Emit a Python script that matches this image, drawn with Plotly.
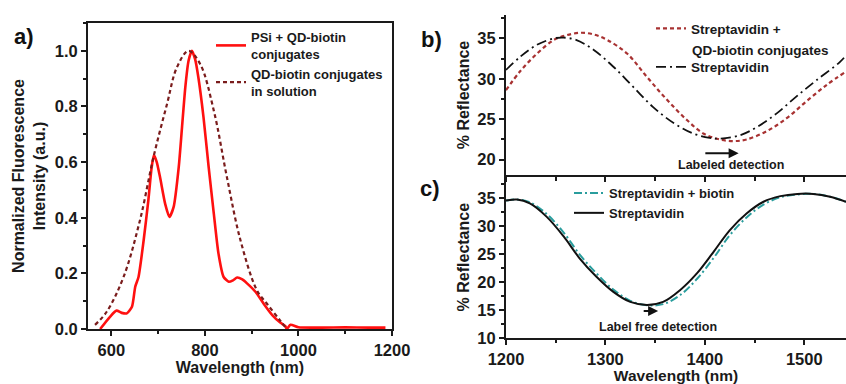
import plotly.graph_objects as go

# ---------------- Panel a data ----------------
psi_x = [576, 597, 611, 622, 633, 644, 651, 658, 669, 679, 686, 691, 697, 704, 715, 724, 733, 744, 751, 758, 765,
         772, 779, 786, 797, 808, 819, 829, 840, 851, 860, 869, 880, 890, 908, 926, 944, 961, 972, 975, 983,
         1000, 1050, 1100, 1150, 1186]
psi_y = [0.0, 0.044, 0.066, 0.058, 0.056, 0.08, 0.152, 0.187, 0.319, 0.462, 0.58, 0.625, 0.6, 0.546, 0.45, 0.403, 0.438,
         0.582, 0.725, 0.868, 0.964, 1.0, 0.97, 0.904, 0.761, 0.582, 0.415, 0.271, 0.187, 0.17, 0.175, 0.185, 0.178,
         0.164, 0.134, 0.09, 0.05, 0.023, 0.01, 0.0, 0.015, 0.006, 0.005, 0.006, 0.005, 0.005]

sol_x = [565, 590, 626, 661, 690, 719, 740, 765, 790, 819, 847, 876, 911, 933, 961, 975]
sol_y = [0.015, 0.062, 0.187, 0.39, 0.618, 0.809, 0.94, 1.0, 0.952, 0.785, 0.546, 0.319, 0.14, 0.09, 0.03, 0.0]

# ---------------- Panel b data ----------------
b_qd_x = [1200, 1214, 1231, 1248, 1261, 1275, 1288, 1302, 1322, 1342, 1362, 1382, 1399, 1415, 1429, 1442,
          1462, 1482, 1502, 1522, 1542]
b_qd_y = [28.6, 30.9, 33.1, 34.8, 35.4, 35.7, 35.5, 34.8, 33.1, 30.2, 27.4, 24.9, 23.2, 22.5, 22.3, 22.5,
          23.5, 25.1, 27.2, 29.2, 30.9]
b_st_x = [1200, 1214, 1231, 1248, 1258, 1271, 1288, 1308, 1328, 1348, 1369, 1389, 1405, 1415, 1435, 1452,
          1472, 1492, 1512, 1536, 1542]
b_st_y = [31.1, 32.7, 34.2, 35.0, 35.1, 34.8, 33.6, 31.5, 29.0, 26.5, 24.5, 23.2, 22.7, 22.6, 23.0, 24.0,
          25.7, 27.8, 29.8, 32.1, 32.9]

# ---------------- Panel c data ----------------
c_x = [1200, 1211, 1224, 1241, 1258, 1274, 1291, 1308, 1325, 1342, 1358, 1375, 1392, 1409, 1425, 1442,
       1459, 1476, 1493, 1509, 1526, 1542]
c_st_y = [34.6, 34.8, 34.1, 31.7, 28.2, 24.3, 21.0, 18.3, 16.5, 15.95, 16.5, 18.6, 21.6, 25.5, 29.3, 32.3,
          34.4, 35.4, 35.8, 35.8, 35.3, 34.4]
c_bio_y = [34.6, 34.8, 34.3, 32.2, 28.9, 25.0, 21.6, 18.7, 16.7, 15.9, 16.1, 17.7, 20.6, 24.4, 28.4, 31.6,
           33.9, 35.2, 35.7, 35.8, 35.3, 34.4]

a_xticks = [600, 800, 1000, 1200]
a_yticks = [0.0, 0.2, 0.4, 0.6, 0.8, 1.0]
bc_xticks = [1200, 1300, 1400, 1500]
b_yticks = [20, 25, 30, 35]
c_yticks = [10, 15, 20, 25, 30, 35]

FONT = "Liberation Sans"
INK = "#1a1a1a"
TICKFONT = dict(family=FONT, size=16.5, color=INK)

def bold_labels(vals, fmt="{:g}"):
    return ["<b>" + fmt.format(v) + "</b>" for v in vals]

fig = go.Figure()

# Panel a
fig.add_trace(go.Scatter(x=psi_x, y=psi_y, mode="lines", line=dict(color="#ff1010", width=2.6, shape="spline", smoothing=0.6),
                         name="PSi + QD-biotin<br>conjugates", xaxis="x", yaxis="y", legend="legend"))
fig.add_trace(go.Scatter(x=sol_x, y=sol_y, mode="lines", line=dict(color="#7a1c1c", width=2.2, dash="4px,3px", shape="spline"),
                         name="QD-biotin conjugates<br>in solution", xaxis="x", yaxis="y", legend="legend"))
# Panel b
fig.add_trace(go.Scatter(x=b_qd_x, y=b_qd_y, mode="lines", line=dict(color="#a83232", width=2.2, dash="4px,3px", shape="spline"),
                         name="Streptavidin +", xaxis="x2", yaxis="y2", legend="legend2", legendgroup="g1"))
fig.add_trace(go.Scatter(x=b_st_x, y=b_st_y, mode="lines", line=dict(color="#111111", width=1.8, dash="10px,4px,2px,4px", shape="spline"),
                         name="Streptavidin", xaxis="x2", yaxis="y2", legend="legend2", legendgroup="g2"))
# Panel c
fig.add_trace(go.Scatter(x=c_x, y=c_bio_y, mode="lines", line=dict(color="#2a9d9d", width=2.0, dash="8px,3px,2px,3px", shape="spline"),
                         name="Streptavidin + biotin", xaxis="x3", yaxis="y3", legend="legend3"))
fig.add_trace(go.Scatter(x=c_x, y=c_st_y, mode="lines", line=dict(color="#111111", width=2.0, shape="spline"),
                         name="Streptavidin", xaxis="x3", yaxis="y3", legend="legend3"))

W, H = 846, 384
def dx(p0, p1):
    return [p0 / W, p1 / W]
def dy(top, bot):
    return [(H - bot) / H, (H - top) / H]

axcommon = dict(showgrid=False, zeroline=False, linecolor=INK, linewidth=2, ticks="outside",
                ticklen=5, tickwidth=2, tickcolor=INK, tickfont=TICKFONT, automargin=False)
TITLEFONT = dict(family=FONT, size=16, color=INK)

def minor(dt, ln=3, where="outside"):
    return dict(dtick=dt, ticks=where, ticklen=ln, tickwidth=1.5, tickcolor=INK)

lay = dict(
    width=W, height=H, margin=dict(l=0, r=0, t=0, b=0, autoexpand=False),
    plot_bgcolor="white", paper_bgcolor="white",
    font=dict(family=FONT, color=INK),
    xaxis=dict(domain=dx(88, 392), range=[550, 1200], tickvals=a_xticks, ticktext=bold_labels(a_xticks),
               mirror=True, anchor="y", minor=minor(100),
               title=dict(text="<b>Wavelength (nm)</b>", font=TITLEFONT, standoff=4)),
    yaxis=dict(domain=dy(23, 329), range=[0, 1.1], tickvals=a_yticks, ticktext=bold_labels(a_yticks, "{:.1f}"),
               mirror=True, anchor="x", minor=minor(0.1),
               title=dict(text="<b>Normalized Fluorescence<br>Intensity (a.u.)</b>", font=TITLEFONT, standoff=5)),
    xaxis4=dict(domain=dx(88, 392), range=[550, 1200], tickvals=a_xticks, showticklabels=False,
                overlaying="x", side="top", anchor="y", ticks="inside", showline=False,
                minor=minor(100, 3, "inside")),
    yaxis4=dict(domain=dy(23, 329), range=[0, 1.1], tickvals=a_yticks, showticklabels=False,
                overlaying="y", side="right", anchor="x", ticks="inside", showline=False,
                minor=minor(0.1, 3, "inside")),
    xaxis2=dict(domain=dx(506, 846), range=[1200, 1542], tickvals=bc_xticks, showticklabels=False, anchor="y2",
                mirror=False, minor=minor(50, 4)),
    yaxis2=dict(domain=dy(15, 175), range=[18.1, 37.9], tickvals=b_yticks, ticktext=bold_labels(b_yticks),
                anchor="x2", minor=minor(2.5),
                title=dict(text="<b>% Reflectance</b>", font=TITLEFONT, standoff=4)),
    xaxis3=dict(domain=dx(506, 846), range=[1200, 1542], tickvals=bc_xticks, ticktext=bold_labels(bc_xticks),
                anchor="y3", minor=minor(50),
                title=dict(text="<b>Wavelength (nm)</b>", font=dict(family=FONT, size=15.5, color=INK), standoff=0)),
    yaxis3=dict(domain=dy(176, 338.3), range=[10, 39], tickvals=c_yticks, ticktext=bold_labels(c_yticks),
                anchor="x3", minor=minor(2.5),
                title=dict(text="<b>% Reflectance</b>", font=TITLEFONT, standoff=4)),
    legend=dict(x=211 / W, y=(H - 22) / H, xanchor="left", yanchor="top", bgcolor="rgba(0,0,0,0)",
                font=dict(family=FONT, size=13, color=INK, weight=700), tracegroupgap=0),
    legend2=dict(x=651 / W, y=(H - 13) / H, xanchor="left", yanchor="top", bgcolor="rgba(0,0,0,0)",
                 font=dict(family=FONT, size=13.5, color=INK, weight=700), traceorder="grouped",
                 tracegroupgap=18),
    legend3=dict(x=569 / W, y=(H - 178) / H, xanchor="left", yanchor="top", bgcolor="rgba(0,0,0,0)",
                 font=dict(family=FONT, size=13, color=INK, weight=700), tracegroupgap=0),
    showlegend=True,
)
for k in ["xaxis", "yaxis", "xaxis2", "yaxis2", "xaxis3", "yaxis3", "xaxis4", "yaxis4"]:
    d = dict(axcommon)
    d.update(lay[k])
    lay[k] = d

fig.update_layout(**lay)

# continuation line of the panel b legend entry
fig.add_annotation(text="<b>QD-biotin conjugates</b>", x=690 / W, y=(H - 50) / H, xref="paper", yref="paper",
                   showarrow=False, xanchor="left", yanchor="middle",
                   font=dict(family=FONT, size=13.5, color=INK))

# Panel labels
for txt, px, py in [("a)", 24, 36), ("b)", 431, 40), ("c)", 430, 188)]:
    fig.add_annotation(text="<b>%s</b>" % txt, x=px / W, y=(H - py) / H, xref="paper", yref="paper",
                       showarrow=False, font=dict(family=FONT, size=22, color="#111111"),
                       xanchor="center", yanchor="middle")

# Detection arrows and text
fig.add_annotation(x=1434, y=20.8, ax=1399, ay=20.8, xref="x2", yref="y2", axref="x2", ayref="y2",
                   showarrow=True, arrowhead=2, arrowsize=1, arrowwidth=2, arrowcolor="#111111", text="")
fig.add_annotation(x=1426, y=19.3, xref="x2", yref="y2", text="<b>Labeled detection</b>", showarrow=False,
                   font=dict(family=FONT, size=12.5, color=INK))
fig.add_annotation(x=1353, y=14.9, ax=1337, ay=14.9, xref="x3", yref="y3", axref="x3", ayref="y3",
                   showarrow=True, arrowhead=2, arrowsize=1, arrowwidth=2, arrowcolor="#111111", text="")
fig.add_annotation(x=1353, y=12.1, xref="x3", yref="y3", text="<b>Label free detection</b>", showarrow=False,
                   font=dict(family=FONT, size=12.5, color=INK))

fig.write_html("out.html")
